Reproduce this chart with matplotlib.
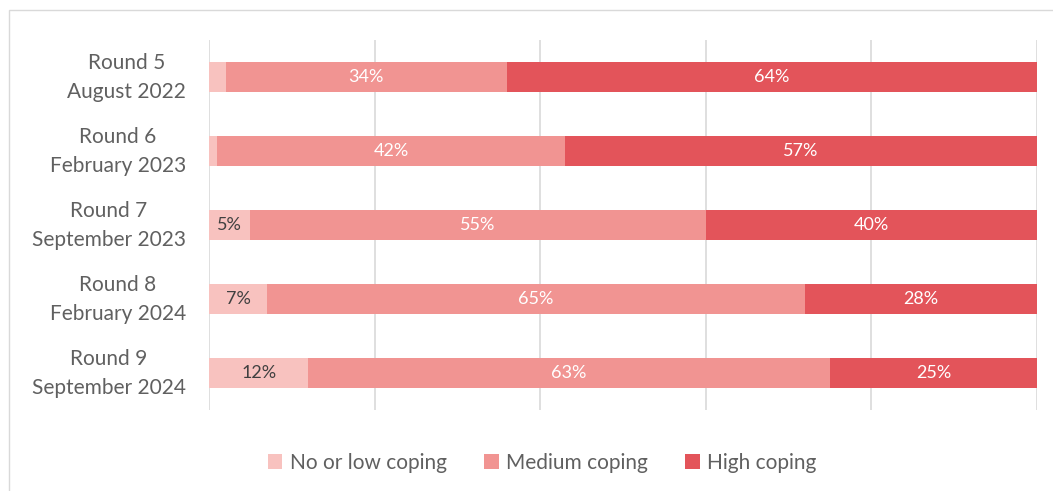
import matplotlib
matplotlib.use('Agg')
import matplotlib.pyplot as plt
import matplotlib.transforms as mtransforms
from matplotlib.patches import Rectangle

plt.rcParams['font.family'] = ['Lato', 'DejaVu Sans']

# ── Data ──────────────────────────────────────────────────────────────────────
rounds = ["Round 5\nAugust 2022", "Round 6\nFebruary 2023", "Round 7\nSeptember 2023",
          "Round 8\nFebruary 2024", "Round 9\nSeptember 2024"]
low_coping = [2, 1, 5, 7, 12]
medium_coping = [34, 42, 55, 65, 63]
high_coping = [64, 57, 40, 28, 25]
series_names = ["No or low coping", "Medium coping", "High coping"]

# ── Style ─────────────────────────────────────────────────────────────────────
COLORS = ["#F8C2BF", "#F19492", "#E3545A"]
LABEL_COLORS = ["#404040", "#FFFFFF", "#FFFFFF"]
GRID_COL = "#D9D9D9"
TEXT_COL = "#606060"
MIN_LABEL = 5

fig = plt.figure(figsize=(10.53, 4.91), dpi=100)
fig.patch.set_facecolor("white")

# light chart-area frame
fig.patches.append(Rectangle((9 / 1053, -0.05), 1.2, 1 - 10 / 491 + 0.05,
                             transform=fig.transFigure, fill=False,
                             edgecolor="#D9D9D9", linewidth=1.0))

ax = fig.add_axes([209 / 1053, 1 - 410 / 491, 828 / 1053, 370 / 491])

y = list(range(len(rounds)))
left = [0] * len(rounds)
for vals, name, col, tcol in zip([low_coping, medium_coping, high_coping],
                                 series_names, COLORS, LABEL_COLORS):
    bars = ax.barh(y, vals, left=left, height=0.405, color=col,
                   label=name, zorder=3)
    for b, v in zip(bars, vals):
        if v >= MIN_LABEL:
            ax.text(b.get_x() + b.get_width() / 2, b.get_y() + b.get_height() / 2,
                    f"{v}%", ha='center', va='center', fontsize=13,
                    color=tcol, zorder=4)
    left = [l + v for l, v in zip(left, vals)]

ax.set_xlim(0, 100)
ax.set_ylim(len(rounds) - 0.5, -0.5)
ax.set_xticks(range(0, 101, 20))
ax.set_xticklabels([])
ax.tick_params(axis='x', length=0)
ax.tick_params(axis='y', length=0, pad=16.5, labelsize=15, labelcolor=TEXT_COL)
ax.set_yticks(y)
ax.set_yticklabels(rounds, ha='right', multialignment='center', linespacing=1.55)
# nudge the two-line category labels up a little
shift = mtransforms.ScaledTranslation(0, 4.5 / 72, fig.dpi_scale_trans)
for lbl in ax.get_yticklabels():
    lbl.set_transform(lbl.get_transform() + shift)
ax.grid(axis='x', color=GRID_COL, linewidth=1.2, zorder=0)
for s in ax.spines.values():
    s.set_visible(False)

leg = fig.legend(loc='center', bbox_to_anchor=(0.515, 1 - 463 / 491), ncol=3,
                 frameon=False, fontsize=15, handlelength=0.7,
                 handleheight=0.7, handletextpad=0.35, columnspacing=1.8)
for t in leg.get_texts():
    t.set_color(TEXT_COL)

fig.savefig("out.png", dpi=100, facecolor="white")
